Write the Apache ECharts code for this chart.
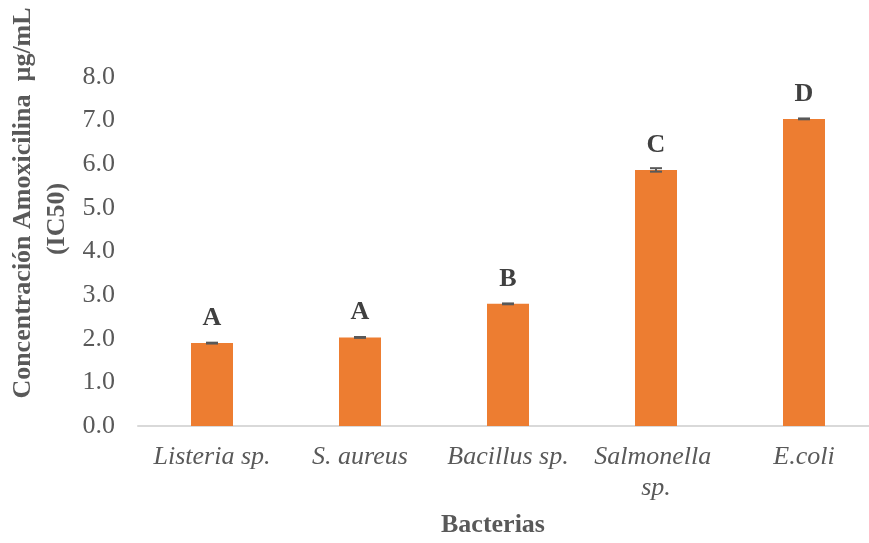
<!DOCTYPE html>
<html>
<head>
<meta charset="utf-8">
<script src="https://cdn.jsdelivr.net/npm/echarts@6/dist/echarts.min.js"></script>
<style>
html,body{margin:0;padding:0;background:#fff;}
#chart{width:869px;height:543px;}
</style>
</head>
<body>
<div id="chart"></div>
<script>
const categories = ['Listeria sp.', 'S. aureus', 'Bacillus sp.', 'Salmonella sp.', 'E.coli'];
const values = [1.90, 2.03, 2.80, 5.87, 7.04];
const errors = [0.01, 0.01, 0.01, 0.04, 0.01];
const groups = ['A', 'A', 'B', 'C', 'D'];
const yTitleLine1 = 'Concentración Amoxicilina  µg/mL';
const yTitleLine2 = '(IC50)';
const xTitle = 'Bacterias';

const FONT = '"Liberation Serif", "Times New Roman", serif';
const chart = echarts.init(document.getElementById('chart'), null, {renderer: 'canvas'});

const option = {
  backgroundColor: '#ffffff',
  animation: false,
  grid: {left: 138, right: -9, top: 77, bottom: 117, containLabel: false, outerBoundsMode: 'none'},
  xAxis: {
    type: 'category',
    data: categories,
    name: xTitle,
    nameLocation: 'middle',
    nameGap: 86,
    nameTextStyle: {fontFamily: FONT, fontSize: 26, fontWeight: 'bold', color: '#595959', padding: [0, 30, 0, 0]},
    axisLine: {show: true, lineStyle: {color: '#d9d9d9', width: 2}},
    axisTick: {show: false},
    axisLabel: {
      fontFamily: FONT, fontSize: 26, fontStyle: 'italic', color: '#595959',
      margin: 16, lineHeight: 31, width: 140, overflow: 'break', interval: 0
    }
  },
  yAxis: {
    type: 'value',
    min: 0, max: 8, interval: 1,
    axisLine: {show: false},
    axisTick: {show: false},
    splitLine: {show: false},
    axisLabel: {
      fontFamily: FONT, fontSize: 26, color: '#595959', margin: 23,
      formatter: v => v.toFixed(1)
    }
  },
  series: [
    {
      type: 'bar',
      data: values,
      barWidth: 42,
      itemStyle: {color: '#ED7D31'},
      label: {
        show: true, position: 'top', distance: 12,
        fontFamily: FONT, fontSize: 26, fontWeight: 'bold', color: '#404040',
        formatter: p => groups[p.dataIndex]
      },
      z: 2
    },
    {
      type: 'custom',
      data: values.map((v, i) => [i, v, errors[i]]),
      renderItem: function (params, api) {
        const x = api.value(0), v = api.value(1), e = api.value(2);
        const hi = api.coord([x, v + e]);
        const lo = api.coord([x, v - e]);
        const hw = 6;
        const style = {stroke: '#595959', lineWidth: 2};
        return {
          type: 'group',
          children: [
            {type: 'line', shape: {x1: hi[0], y1: hi[1], x2: lo[0], y2: lo[1]}, style: style},
            {type: 'line', shape: {x1: hi[0] - hw, y1: hi[1], x2: hi[0] + hw, y2: hi[1]}, style: style},
            {type: 'line', shape: {x1: lo[0] - hw, y1: lo[1], x2: lo[0] + hw, y2: lo[1]}, style: style}
          ]
        };
      },
      z: 3
    }
  ],
  graphic: [
    {
      type: 'text', x: 23, y: 203, rotation: Math.PI / 2,
      style: {text: yTitleLine1, font: 'bold 26px ' + FONT, fill: '#595959', textAlign: 'center', textVerticalAlign: 'middle'}
    },
    {
      type: 'text', x: 57, y: 219, rotation: Math.PI / 2,
      style: {text: yTitleLine2, font: 'bold 26px ' + FONT, fill: '#595959', textAlign: 'center', textVerticalAlign: 'middle'}
    }
  ]
};
chart.setOption(option);
</script>
</body>
</html>
